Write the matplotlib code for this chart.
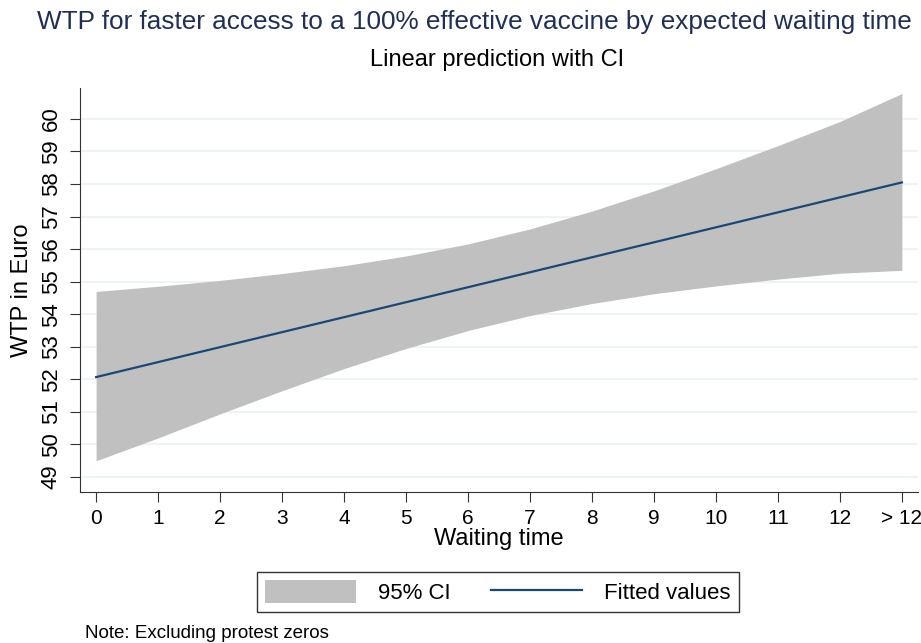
import matplotlib.pyplot as plt
import numpy as np

plt.rcParams['font.family'] = ['Liberation Sans', 'DejaVu Sans']

# waiting time categories (last one is "> 12")
wait = np.arange(14)
tick_labels = ['0', '1', '2', '3', '4', '5', '6', '7', '8', '9', '10', '11', '12', '> 12']

fitted = [52.07, 52.53, 52.99, 53.45, 53.91, 54.37, 54.83,
          55.29, 55.75, 56.21, 56.67, 57.13, 57.59, 58.05]
ci_upper = [54.70, 54.86, 55.04, 55.25, 55.49, 55.79, 56.16,
            56.62, 57.17, 57.79, 58.47, 59.18, 59.92, 60.78]
ci_lower = [49.50, 50.20, 50.94, 51.65, 52.33, 52.95, 53.50,
            53.96, 54.33, 54.63, 54.87, 55.08, 55.26, 55.35]

navy = '#1a4876'
fig = plt.figure(figsize=(9.21, 6.43), dpi=100)
ax = fig.add_axes([80 / 921, 1 - 492 / 643, 838 / 921, 404 / 643])

ax.fill_between(wait, ci_lower, ci_upper, color='#c0c0c0', linewidth=0, label='95% CI')
ax.plot(wait, fitted, color=navy, linewidth=1.6, label='Fitted values')

ax.set_xlim(-0.26, 13.26)
ax.set_ylim(48.54, 60.95)
ax.set_xticks(wait)
ax.set_xticklabels(tick_labels)
ax.set_yticks(np.arange(49, 61))
ax.tick_params(axis='both', length=7, color='#333333')
ax.tick_params(axis='x', labelsize=15, pad=5)
ax.tick_params(axis='y', labelsize=16, labelrotation=90, pad=6)
for lab in ax.get_yticklabels():
    lab.set_va('center')
ax.grid(axis='y', color='#eaf2f3', linewidth=1.2)
ax.set_axisbelow(True)
for s in ['top', 'right']:
    ax.spines[s].set_visible(False)
ax.spines['left'].set_color('#333333')
ax.spines['bottom'].set_color('#333333')

ax.set_xlabel('Waiting time', fontsize=17, labelpad=0)
ax.set_ylabel('WTP in Euro', fontsize=17, labelpad=6)

fig.text(474 / 921, 1 - 22 / 643, 'WTP for faster access to a 100% effective vaccine by expected waiting time',
         ha='center', va='center', fontsize=18.8, color='#1f2f57')
fig.text(497 / 921, 1 - 60 / 643, 'Linear prediction with CI', ha='center', va='center', fontsize=17)

leg = fig.legend(loc='center', bbox_to_anchor=(498 / 921, 1 - 592 / 643), ncol=2, fontsize=16,
                 frameon=True, fancybox=False, edgecolor='black', handlelength=4.1,
                 handleheight=1.2, handletextpad=1.0, columnspacing=1.8, borderpad=0.35)
leg.get_frame().set_linewidth(1.0)

fig.text(85 / 921, 1 - 634 / 643, 'Note: Excluding protest zeros', ha='left', va='center', fontsize=13.5)

fig.savefig('out.png', dpi=100)
